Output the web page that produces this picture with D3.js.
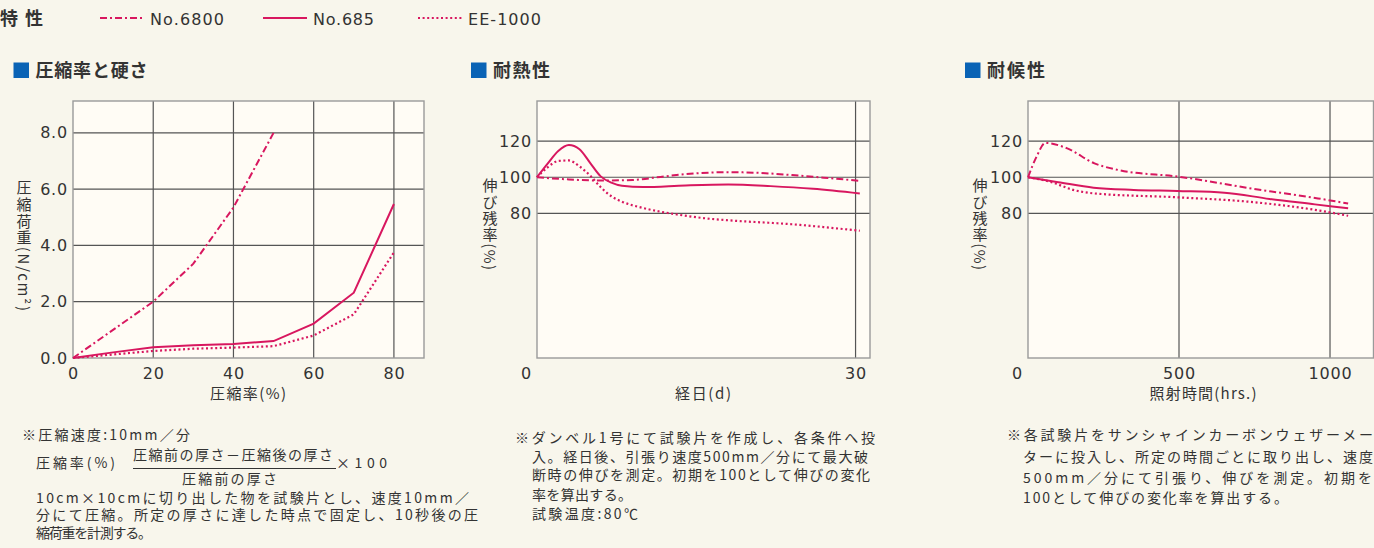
<!DOCTYPE html>
<html>
<head>
<meta charset="utf-8">
<script src="https://cdn.jsdelivr.net/npm/d3@7"></script>
<style>
  body { margin: 0; background: #f8f6ec; }
  svg { display: block; font-family: "Noto Sans CJK JP", "Noto Sans", sans-serif; }
  .tick text { font-family: "DejaVu Sans", sans-serif; font-size: 16px; fill: #333; letter-spacing: 0.8px; }
  .axis-title { font-size: 15px; fill: #333; }
  .note { font-size: 14px; fill: #333; }
  .head { font-size: 18px; font-weight: bold; fill: #333; }
</style>
</head>
<body>
<svg id="chart" width="1374" height="548"></svg>
<script>
/* ---------- data ---------- */
const seriesNames = ["No.6800", "No.685", "EE-1000"];

// 圧縮率と硬さ : [圧縮率 %, 圧縮荷重 N/cm2]
const comp6800 = [[0, 0], [20, 2.0], [30, 3.35], [40, 5.35], [50, 8.0]];
const comp685 = [[0, 0], [10, 0.2], [20, 0.38], [30, 0.45], [40, 0.5], [50, 0.6], [60, 1.22], [70, 2.32], [80, 5.47]];
const comp1000 = [[0, 0], [20, 0.25], [30, 0.33], [40, 0.37], [50, 0.42], [60, 0.8], [70, 1.55], [80, 3.75]];

// 耐熱性 : [経日 d, 伸び残率 %]
const heat6800 = [[0, 100], [3, 98.8], [6, 98.2], [9, 98.5], [12, 100.5], [15, 102.2], [18, 102.8], [21, 102.4], [24, 101.2], [27, 99.8], [30.4, 98]];
const heat685 = [[0, 100], [1, 107.5], [2, 114.5], [3, 117.8], [4, 115.5], [5, 108], [6, 100.5], [7, 97], [8, 95.3], [10, 94.6], [14, 95.5], [18, 96], [22, 95.1], [26, 93.6], [30.4, 91]];
const heat1000 = [[0, 100], [1, 105.5], [2, 109], [3, 109.3], [4, 106], [5, 101], [6, 94.5], [7, 89.5], [8, 86.5], [10, 83], [13, 79.6], [16, 77.2], [18, 76.2], [24, 74], [30.4, 70.4]];

// 耐候性 : [照射時間 hrs, 伸び残率 %]
const weather6800 = [[0, 100], [30, 112], [57, 119], [130, 116], [220, 107.7], [300, 104], [500, 100.3], [740, 93.8], [960, 88.3], [1060, 85.5]];
const weather685 = [[0, 100], [100, 97.3], [217, 94.2], [350, 93], [495, 92.4], [650, 91.5], [800, 88], [950, 85], [1060, 82.8]];
const weather1000 = [[0, 100], [74, 97.5], [150, 93], [217, 91.1], [495, 88.9], [736, 86.4], [957, 81.8], [1060, 78.7]];

// ticks
const compXTicks = [0, 20, 40, 60, 80];
const compYTicks = [0, 2, 4, 6, 8];
const heatXTicks = [0, 30];
const weatherXTicks = [0, 500, 1000];
const elongYTicks = [80, 100, 120];

/* ---------- styles ---------- */
const lineColor = "#d8175f";
const dashes = ["7,3,2,3", null, "2,2.6"];

const svg = d3.select("#chart");

/* ---------- legend ---------- */
svg.append("text").attr("class", "head").attr("x", 0).attr("y", 25)
  .attr("textLength", 43).attr("lengthAdjust", "spacing").text("特 性");

const legendX = [100, 263, 418];
const legendW = [74, 61, 73];
seriesNames.forEach((name, i) => {
  svg.append("line")
    .attr("x1", legendX[i]).attr("x2", legendX[i] + 44)
    .attr("y1", 18).attr("y2", 18)
    .attr("stroke", lineColor).attr("stroke-width", 2)
    .attr("stroke-dasharray", dashes[i]);
  svg.append("text")
    .attr("x", legendX[i] + 50).attr("y", 24.5)
    .attr("font-family", "DejaVu Sans").attr("font-size", 16).attr("fill", "#333")
    .attr("textLength", legendW[i]).attr("lengthAdjust", "spacing")
    .text(name);
});

/* ---------- panel builder ---------- */
function drawPanel(p) {
  const x = d3.scaleLinear().domain(p.xDomain).range([p.left, p.right]);
  const y = d3.scaleLinear().domain(p.yDomain).range([p.bottom, p.top]);

  // header
  svg.append("rect").attr("x", p.headX).attr("y", 62.5).attr("width", 15.5).attr("height", 15.5)
    .attr("fill", "#0a63b5");
  svg.append("text").attr("class", "head").attr("x", p.headX + 22).attr("y", 77)
    .attr("textLength", p.headW).attr("lengthAdjust", "spacing").text(p.title);

  // plot background
  svg.append("rect")
    .attr("x", p.left).attr("y", p.top)
    .attr("width", p.right - p.left).attr("height", p.bottom - p.top)
    .attr("fill", "#fffcf5");

  // grid
  const grid = svg.append("g").attr("stroke", "#555").attr("stroke-width", 1.2);
  grid.selectAll(".gx").data(p.xGrid).join("line")
    .attr("x1", d => x(d)).attr("x2", d => x(d))
    .attr("y1", p.top).attr("y2", p.bottom);
  grid.selectAll(".gy").data(p.yGrid).join("line")
    .attr("x1", p.left).attr("x2", p.right)
    .attr("y1", d => y(d)).attr("y2", d => y(d));

  // frame
  svg.append("rect")
    .attr("x", p.left).attr("y", p.top)
    .attr("width", p.right - p.left).attr("height", p.bottom - p.top)
    .attr("fill", "none").attr("stroke", "#9a9a9a").attr("stroke-width", 1.4);

  // axes (labels only)
  const xAxis = svg.append("g").attr("transform", `translate(0,${p.bottom})`)
    .call(d3.axisBottom(x).tickValues(p.xTicks).tickSize(0).tickPadding(10).tickFormat(d3.format("d")));
  xAxis.select(".domain").remove();
  xAxis.selectAll(".tick text").attr("dx", d => (d === 0 ? p.zeroDx : 0));

  const yAxis = svg.append("g").attr("transform", `translate(${p.left},0)`)
    .call(d3.axisLeft(y).tickValues(p.yTicks).tickSize(0).tickPadding(5).tickFormat(p.yFormat));
  yAxis.select(".domain").remove();

  // axis titles
  svg.append("text").attr("class", "axis-title")
    .attr("x", p.xTitleX).attr("y", 399).attr("text-anchor", "middle")
    .attr("textLength", p.xTitleW).attr("lengthAdjust", "spacing")
    .text(p.xTitle);
  svg.append("text").attr("class", "axis-title")
    .attr("x", p.yTitleX).attr("y", p.yTitleY)
    .style("writing-mode", "vertical-rl")
    .attr("textLength", p.yTitleH).attr("lengthAdjust", "spacing")
    .text(p.yTitle);

  // series
  const line = d3.line().x(d => x(d[0])).y(d => y(d[1])).curve(p.curve);
  p.series.forEach((s, i) => {
    svg.append("path").datum(s)
      .attr("d", line)
      .attr("fill", "none")
      .attr("stroke", lineColor)
      .attr("stroke-width", i === 2 ? 2.2 : 2)
      .attr("stroke-dasharray", dashes[i]);
  });
}

drawPanel({
  title: "圧縮率と硬さ", headX: 13.5, headW: 112,
  left: 73, right: 424, top: 101, bottom: 358,
  xDomain: [0, 87.5], yDomain: [0, 9.13],
  xTicks: compXTicks, yTicks: compYTicks,
  xGrid: compXTicks.slice(1), yGrid: compYTicks.slice(1),
  yFormat: d3.format(".1f"), zeroDx: 0,
  xTitle: "圧縮率(%)", xTitleX: 248, xTitleW: 76,
  yTitle: "圧縮荷重(N/cm²)", yTitleX: 24, yTitleY: 180, yTitleH: 131,
  curve: d3.curveLinear,
  series: [comp6800, comp685, comp1000]
});

drawPanel({
  title: "耐熱性", headX: 471, headW: 57,
  left: 537, right: 870, top: 101, bottom: 358,
  xDomain: [0, 31.36], yDomain: [0, 142.2],
  xTicks: heatXTicks, yTicks: elongYTicks,
  xGrid: [30], yGrid: elongYTicks,
  yFormat: d3.format("d"), zeroDx: -11,
  xTitle: "経日(d)", xTitleX: 703, xTitleW: 56,
  yTitle: "伸び残率(%)", yTitleX: 490, yTitleY: 178, yTitleH: 92,
  curve: d3.curveMonotoneX,
  series: [heat6800, heat685, heat1000]
});

drawPanel({
  title: "耐候性", headX: 965, headW: 58,
  left: 1028, right: 1373.5, top: 101, bottom: 358,
  xDomain: [0, 1144], yDomain: [0, 142.2],
  xTicks: weatherXTicks, yTicks: elongYTicks,
  xGrid: [500, 1000], yGrid: elongYTicks,
  yFormat: d3.format("d"), zeroDx: -11,
  xTitle: "照射時間(hrs.)", xTitleX: 1203, xTitleW: 107,
  yTitle: "伸び残率(%)", yTitleX: 980, yTitleY: 178, yTitleH: 92,
  curve: d3.curveMonotoneX,
  series: [weather6800, weather685, weather1000]
});

/* ---------- notes ---------- */
function note(x, y, w, txt) {
  svg.append("text").attr("class", "note").attr("x", x).attr("y", y)
    .attr("textLength", w).attr("lengthAdjust", "spacing").text(txt);
}

note(22, 440, 168, "※圧縮速度:10mm／分");
note(36, 468, 79, "圧縮率(%)");
note(133, 460, 200, "圧縮前の厚さ－圧縮後の厚さ");
svg.append("line").attr("x1", 133).attr("x2", 336).attr("y1", 468.5).attr("y2", 468.5)
  .attr("stroke", "#333").attr("stroke-width", 1);
note(182, 484, 95, "圧縮前の厚さ");
note(336, 468, 51, "×100");
note(36, 502.5, 433, "10cm×10cmに切り出した物を試験片とし、速度10mm／");
note(36, 520, 442, "分にて圧縮。所定の厚さに達した時点で固定し、10秒後の圧");
note(36, 537.5, 116, "縮荷重を計測する。");

note(515, 442.5, 360, "※ダンベル1号にて試験片を作成し、各条件へ投");
note(532, 461.5, 336, "入。経日後、引張り速度500mm／分にて最大破");
note(532, 480, 338, "断時の伸びを測定。初期を100として伸びの変化");
note(532, 499.5, 100, "率を算出する。");
note(532, 518.5, 106, "試験温度:80℃");

note(1007, 440, 366, "※各試験片をサンシャインカーボンウェザーメー");
note(1023, 461.5, 350, "ターに投入し、所定の時間ごとに取り出し、速度");
note(1023, 483, 349, "500mm／分にて引張り、伸びを測定。初期を");
note(1023, 503, 265, "100として伸びの変化率を算出する。");
</script>
</body>
</html>
